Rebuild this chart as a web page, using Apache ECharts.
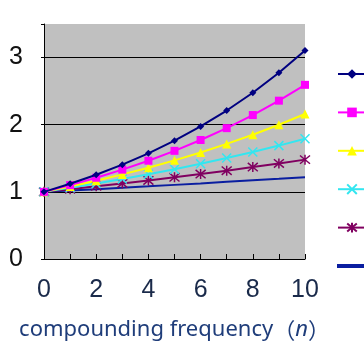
<!DOCTYPE html>
<html><head><meta charset="utf-8">
<script src="https://cdn.jsdelivr.net/npm/echarts@6/dist/echarts.min.js"></script>
<style>html,body{margin:0;padding:0;background:#fff}#c{width:364px;height:364px}</style>
</head><body><div id="c"></div>
<script>
var periods = [0,1,2,3,4,5,6,7,8,9,10];
var seriesNames = ['12%','10%','8%','6%','4%','2%'];
var r12 = [1,1.12,1.254,1.405,1.574,1.762,1.974,2.211,2.476,2.773,3.106];
var r10 = [1,1.10,1.210,1.331,1.464,1.611,1.772,1.949,2.144,2.358,2.594];
var r8  = [1,1.08,1.166,1.260,1.360,1.469,1.587,1.714,1.851,1.999,2.159];
var r6  = [1,1.06,1.124,1.191,1.262,1.338,1.419,1.504,1.594,1.689,1.791];
var r4  = [1,1.04,1.082,1.125,1.170,1.217,1.265,1.316,1.369,1.423,1.480];
var r2  = [1,1.02,1.040,1.061,1.082,1.104,1.126,1.149,1.172,1.195,1.219];
var yTicks = [0,1,2,3];
var xTickLabels = [0,2,4,6,8,10];

var allData = [r12,r10,r8,r6,r4,r2];
var colors = ['#000080','#ff00ff','#ffff00','#33e6f0','#800060','#0a1ea0'];
var symbols = ['diamond','rect','triangle',
  'path://M-5,-5L5,5M5,-5L-5,5',
  'path://M0,-6L0,6M-5,-5L5,5M5,-5L-5,5',
  'none'];
var sizes = [7,8,9,9,10,0];

var chart = echarts.init(document.getElementById('c'));
var series = allData.map(function(d,i){
  return {
    name: seriesNames[i], type:'line',
    data: periods.map(function(p,k){return [p,d[k]];}),
    symbol: symbols[i], symbolSize: sizes[i], showSymbol: symbols[i] !== 'none',
    lineStyle:{color:colors[i], width:2},
    itemStyle:{color:colors[i], borderColor:colors[i], borderWidth: i>=3?1.5:0},
    z: 10-i, animation:false
  };
});
var legendData = seriesNames.map(function(n,i){
  if (symbols[i] === 'none') return {name:n, icon:'path://M0,0L28,0L28,2L0,2Z'};
  return {name:n};
});
var numFont = "'Liberation Sans', sans-serif";
chart.setOption({
  animation:false,
  grid:{left:44,right:59,top:24,bottom:105,show:true,backgroundColor:'#c0c0c0',borderWidth:0},
  legend:{
    orient:'vertical', left:332, top:59, itemWidth:28, itemHeight:12, itemGap:18.4,
    data: legendData,
    textStyle:{fontSize:20, lineHeight:20, color:'#1a2a5a', fontFamily:numFont}
  },
  xAxis:{
    type:'value', min:0, max:10, interval:1,
    axisLine:{lineStyle:{color:'#000',width:1}},
    axisTick:{inside:true,length:5,lineStyle:{color:'#000'}},
    axisLabel:{margin:19,fontSize:25,color:'#1a2a4a',fontFamily:numFont,
      formatter:function(v){return xTickLabels.indexOf(v)>=0? String(v):'';}},
    splitLine:{show:false},
    name:'{a|compounding frequency}{p|（}{n|n}{p|）}',
    nameLocation:'middle', nameGap:60,
    nameTextStyle:{rich:{
      a:{fontSize:22,color:'#1f3d7a',fontFamily:'Noto Sans'},
      p:{fontSize:22,color:'#1f3d7a',fontFamily:'Noto Sans CJK JP'},
      n:{fontSize:22,color:'#1f3d7a',fontStyle:'italic',fontFamily:'Noto Sans'}
    }}
  },
  yAxis:{
    type:'value', min:0, max:3.5, interval:1,
    axisLine:{show:true,lineStyle:{color:'#000',width:1}},
    axisTick:{show:true,length:3,lineStyle:{color:'#000'}},
    axisLabel:{margin:21,fontSize:25,color:'#111',fontFamily:numFont,
      formatter:function(v){return yTicks.indexOf(v)>=0? String(v):'';}},
    splitLine:{show:true,showMaxLine:false,lineStyle:{color:'#000',width:1}}
  },
  series: series
});
</script></body></html>
